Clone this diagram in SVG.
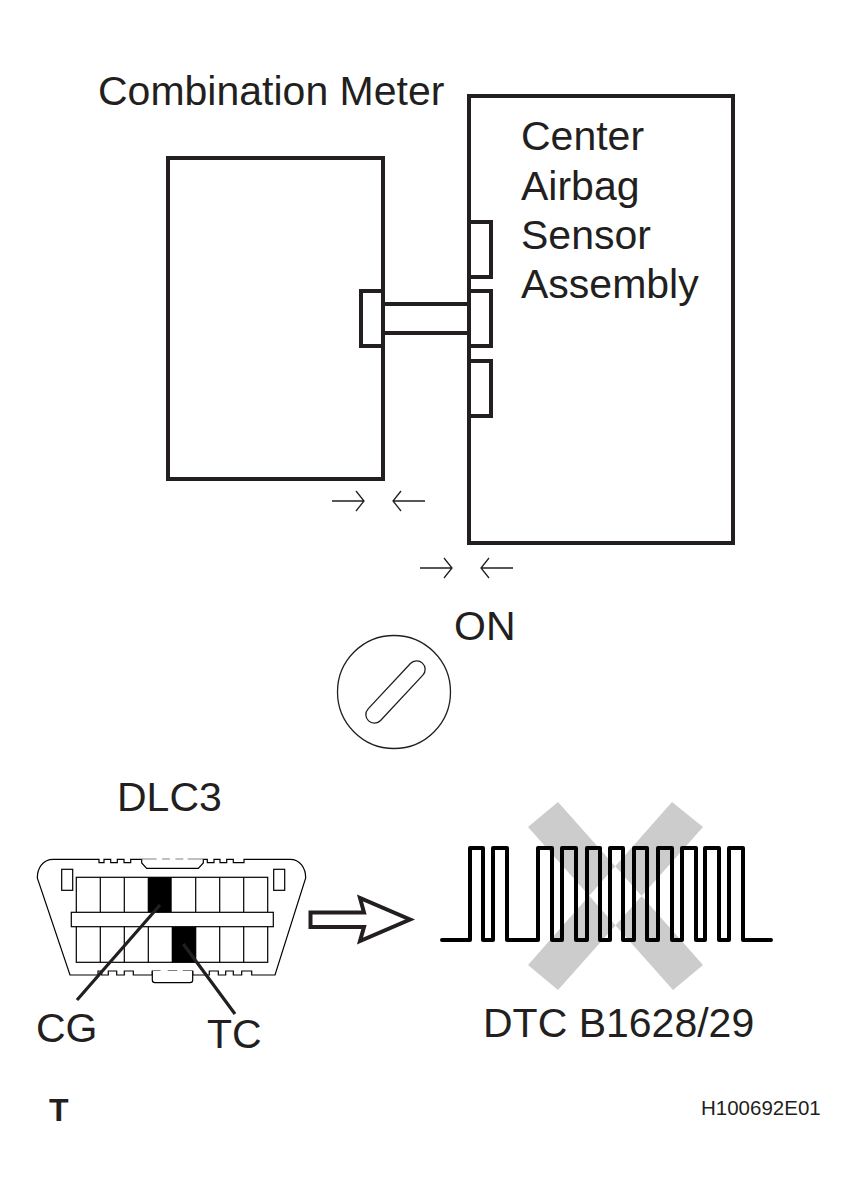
<svg xmlns="http://www.w3.org/2000/svg" width="857" height="1196" viewBox="0 0 857 1196">
<style>
text{font-family:"Liberation Sans",Arial,sans-serif;fill:#231f20;font-size:41px}
.box{fill:#fff;stroke:#231f20;stroke-width:4}
.thin{fill:none;stroke:#231f20;stroke-width:1.3}
.dlc{fill:#fff;stroke:#000;stroke-width:1.2}
.lead{fill:none;stroke:#231f20;stroke-width:3.2}
</style>
<rect width="857" height="1196" fill="#fff"/>
<g id="combination-meter">
<rect class="box" x="168" y="158" width="215" height="321"/>
<rect class="box" x="361" y="291" width="22" height="55"/>
<text x="98" y="105">Combination Meter</text>
</g>
<g id="center-airbag-sensor">
<rect class="box" x="469" y="96" width="264" height="447"/>
<rect class="box" x="469" y="222" width="22" height="55"/>
<rect class="box" x="469" y="291" width="22" height="55"/>
<rect class="box" x="469" y="361" width="22" height="55"/>
<text x="521" y="150">Center</text>
<text x="521" y="200">Airbag</text>
<text x="521" y="249">Sensor</text>
<text x="521" y="298">Assembly</text>
</g>
<g id="connectors">
<path d="M383 304H469M383 333H469" fill="none" stroke="#231f20" stroke-width="4"/>
<path class="thin" d="M332 501H364M356 491L364 501L356 511M425 501H393M401 491L393 501L401 511"/>
<path class="thin" d="M420 568H452M444 558L452 568L444 578M513 568H481M489 558L481 568L489 578"/>
</g>
<g id="ignition-switch">
<circle cx="394" cy="692" r="56.5" fill="#fff" stroke="#231f20" stroke-width="1.3"/>
<rect x="-39.500" y="-8.500" width="79" height="17" rx="8.500" transform="translate(395.500 692) rotate(-47)" fill="#fff" stroke="#231f20" stroke-width="1.3"/>
<text x="454" y="640">ON</text>
</g>
<g id="dlc3">
<text x="117" y="811">DLC3</text>
<path class="dlc" d="M53.300 859.300H99V862.700H104V859.300H110.700V862.700H117.300V859.300H124V862.700H130.700V859.300H156V862.700H162.700V859.300H169.300V862.700H176V859.300H182.700V862.700H188.300V859.300H207.300V862.700H214V859.300H220V862.700H226.700V859.300H233.300V862.700H244V859.300H290C300 859.300 305.700 868 305.700 878L275 975H251.700V971H241.700V975H233.300V971H225.700V975H218.300V971H209.300V975H192.700V971H183.300V976H176.700V971H168.300V976H160V971H152.300V975H133.300V971H124.300V975H116.700V971H108.300V975H101.700V971H98V975H70L37.300 878C37.300 868 43 859.300 53.300 859.300Z"/>
<path class="dlc" d="M141.700 859.300V863L146.700 868.300H198.300L203.300 863V859.300M152.300 971V980Q152.300 982.700 155 982.700H190Q192.700 982.700 192.700 980V971"/>
<g fill="#fff" stroke="#000" stroke-width="1.2">
<rect x="61.700" y="869.300" width="11" height="21"/><rect x="273.700" y="869.300" width="11" height="21"/>
<rect x="76.300" y="877.300" width="191.400" height="85"/>
</g>
<path fill="#000" d="M148.300 877.300H171.700V912.300H148.300ZM171.700 926.700H195.700V962.300H171.700Z"/>
<path fill="none" stroke="#000" stroke-width="1.2" d="M100.300 877.300V962.300M124.300 877.300V962.300M148.300 877.300V962.300M195.700 877.300V962.300M219.700 877.300V962.300M243.700 877.300V962.300"/>
<rect x="71.300" y="912.300" width="202" height="14.400" fill="#fff" stroke="#000" stroke-width="1.2"/>
<path class="lead" d="M160 905L77 1000M183.300 944L235 1014"/>
<text x="36" y="1042">CG</text>
<text x="207" y="1048">TC</text>
</g>
<g id="arrow">
<path d="M310.500 912.500H364L360 898L410 919.500L360 941L364 927H310.500Z" fill="#fff" stroke="#231f20" stroke-width="4"/>
</g>
<g id="waveform">
<path d="M558 802L528 827L673 990L703 965ZM672 802L703 827L558 990L528 965Z" fill="#ccc"/>
<path d="M442 940H470V848H483V940H493V848H507V940H538V848H552V940H562V848H576V940H587V848H600V940H610V848H623V940H634V848H647V940H658V848H672V940H682V848H696V940H705V848H719V940H729V848H743V940H771" fill="none" stroke="#000" stroke-width="4" stroke-linejoin="round" stroke-linecap="round"/>
<text x="483" y="1037">DTC B1628/29</text>
</g>
<text x="49" y="1121" style="font-size:32px;font-weight:bold">T</text>
<text x="701" y="1115" style="font-size:20.500px">H100692E01</text>
</svg>
